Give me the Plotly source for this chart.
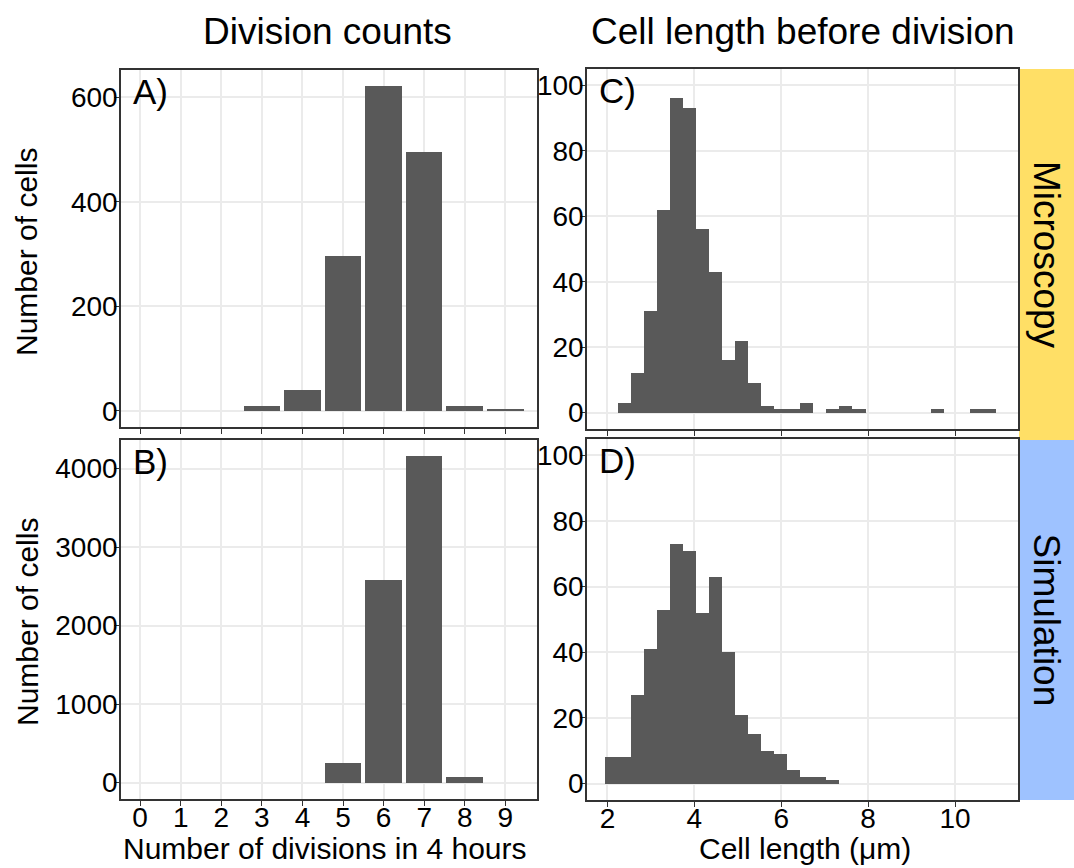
import plotly.graph_objects as go

# ---------------- data ----------------
divisions = [0, 1, 2, 3, 4, 5, 6, 7, 8, 9]
micro_div_counts = [0, 0, 0, 9, 39, 297, 621, 495, 9, 2]
sim_div_counts = [0, 0, 0, 0, 0, 256, 2581, 4157, 77, 0]

bin_start = 1.94
bin_width = 0.3
micro_len_counts = [0, 3, 12, 31, 62, 96, 93, 56, 43, 16, 22, 9, 2, 1, 1, 3, 0, 1, 2, 1,
                    0, 0, 0, 0, 0, 1, 0, 0, 1, 1]
sim_len_counts = [8, 8, 27, 41, 53, 73, 71, 52, 63, 40, 21, 15, 10, 9, 4, 2, 2, 1]

div_ticks = [0, 1, 2, 3, 4, 5, 6, 7, 8, 9]
len_ticks = [2, 4, 6, 8, 10]
micro_div_yticks = [0, 200, 400, 600]
sim_div_yticks = [0, 1000, 2000, 3000, 4000]
len_yticks = [0, 20, 40, 60, 80, 100]

col_titles = ["Division counts", "Cell length before division"]
row_labels = ["Microscopy", "Simulation"]
panel_letters = ["A)", "B)", "C)", "D)"]

# ---------------- figure ----------------
W, H = 1074, 868
FONT = "Liberation Sans, Arial, Helvetica, sans-serif"
BAR = "#595959"
GRID = "#EBEBEB"
LINE = "#333333"


def px_x(p):
    return p / W


def px_y(p):
    return 1 - p / H


def centers(counts):
    return [bin_start + bin_width * (i + 0.5) for i in range(len(counts))]


fig = go.Figure()
fig.add_trace(go.Bar(x=divisions, y=micro_div_counts, width=0.9, marker=dict(color=BAR, line=dict(width=0)),
                     xaxis="x", yaxis="y", showlegend=False))
fig.add_trace(go.Bar(x=divisions, y=sim_div_counts, width=0.9, marker=dict(color=BAR, line=dict(width=0)),
                     xaxis="x2", yaxis="y2", showlegend=False))
fig.add_trace(go.Bar(x=centers(micro_len_counts), y=micro_len_counts, width=bin_width,
                     marker=dict(color=BAR, line=dict(width=0)), xaxis="x3", yaxis="y3", showlegend=False))
fig.add_trace(go.Bar(x=centers(sim_len_counts), y=sim_len_counts, width=bin_width,
                     marker=dict(color=BAR, line=dict(width=0)), xaxis="x4", yaxis="y4", showlegend=False))

common = dict(showgrid=True, gridcolor=GRID, gridwidth=1.6, zeroline=False, showline=True, mirror=True,
              linecolor=LINE, linewidth=1.6, ticks="outside", ticklen=5, tickwidth=1.4, tickcolor=LINE,
              tickfont=dict(family=FONT, size=28, color="black"), fixedrange=True)
xcommon = dict(common, ticklabelstandoff=-12)
ycommon = dict(common, ticklabelstandoff=-9)

dA = dict(x=[px_x(121), px_x(537)], y=[px_y(427), px_y(70)])
dB = dict(x=[px_x(121), px_x(537)], y=[px_y(799), px_y(440)])
dC = dict(x=[px_x(587), px_x(1018)], y=[px_y(429), px_y(69)])
dD = dict(x=[px_x(587), px_x(1018)], y=[px_y(800), px_y(439)])

fig.update_layout(
    width=W, height=H, margin=dict(l=0, r=0, t=0, b=0),
    paper_bgcolor="white", plot_bgcolor="white", bargap=0,
    xaxis=dict(xcommon, domain=dA["x"], anchor="y", range=[-0.47, 9.78], tickvals=div_ticks, showticklabels=False),
    yaxis=dict(ycommon, domain=dA["y"], anchor="x", range=[-31, 652], tickvals=micro_div_yticks),
    xaxis2=dict(xcommon, domain=dB["x"], anchor="y2", range=[-0.47, 9.78], tickvals=div_ticks),
    yaxis2=dict(ycommon, domain=dB["y"], anchor="x2", range=[-208, 4365], tickvals=sim_div_yticks),
    xaxis3=dict(xcommon, domain=dC["x"], anchor="y3", range=[1.53, 11.45], tickvals=len_ticks, showticklabels=False),
    yaxis3=dict(ycommon, domain=dC["y"], anchor="x3", range=[-5, 105], tickvals=len_yticks),
    xaxis4=dict(xcommon, domain=dD["x"], anchor="y4", range=[1.53, 11.45], tickvals=len_ticks),
    yaxis4=dict(ycommon, domain=dD["y"], anchor="x4", range=[-5, 105], tickvals=len_yticks),
)

# strips
fig.add_shape(type="rect", xref="paper", yref="paper", x0=px_x(1019), x1=1.0, y0=px_y(440), y1=px_y(69),
              fillcolor="#FFDF66", line=dict(width=0), layer="below")
fig.add_shape(type="rect", xref="paper", yref="paper", x0=px_x(1019), x1=1.0, y0=px_y(800), y1=px_y(440),
              fillcolor="#9EC2FF", line=dict(width=0), layer="below")

ann = []
# strip labels
ann.append(dict(text=row_labels[0], xref="paper", yref="paper", x=px_x(1046.5), y=px_y(254.5),
                textangle=90, showarrow=False, font=dict(family=FONT, size=37, color="black"),
                xanchor="center", yanchor="middle"))
ann.append(dict(text=row_labels[1], xref="paper", yref="paper", x=px_x(1046.5), y=px_y(620),
                textangle=90, showarrow=False, font=dict(family=FONT, size=37, color="black"),
                xanchor="center", yanchor="middle"))
# column titles
ann.append(dict(text=col_titles[0], xref="paper", yref="paper", x=px_x(327), y=px_y(32),
                showarrow=False, font=dict(family=FONT, size=37, color="black"),
                xanchor="center", yanchor="middle"))
ann.append(dict(text=col_titles[1], xref="paper", yref="paper", x=px_x(803), y=px_y(32),
                showarrow=False, font=dict(family=FONT, size=37, color="black"),
                xanchor="center", yanchor="middle"))
# axis titles
ann.append(dict(text="Number of cells", xref="paper", yref="paper", x=px_x(27), y=px_y(252),
                textangle=-90, showarrow=False, font=dict(family=FONT, size=30, color="black"),
                xanchor="center", yanchor="middle"))
ann.append(dict(text="Number of cells", xref="paper", yref="paper", x=px_x(27), y=px_y(622),
                textangle=-90, showarrow=False, font=dict(family=FONT, size=30, color="black"),
                xanchor="center", yanchor="middle"))
ann.append(dict(text="Number of divisions in 4 hours", xref="paper", yref="paper", x=px_x(325), y=px_y(848),
                showarrow=False, font=dict(family=FONT, size=30, color="black"),
                xanchor="center", yanchor="middle"))
ann.append(dict(text="Cell length (μm)", xref="paper", yref="paper", x=px_x(805), y=px_y(848),
                showarrow=False, font=dict(family=FONT, size=30, color="black"),
                xanchor="center", yanchor="middle"))
# panel letters
for letter, xa, ya in zip(panel_letters, ["x", "x2", "x3", "x4"], ["y", "y2", "y3", "y4"]):
    ann.append(dict(text=letter, xref=xa + " domain", yref=ya + " domain", x=0, y=1,
                    xshift=10, yshift=0, xanchor="left", yanchor="top", showarrow=False,
                    font=dict(family=FONT, size=35, color="black")))

fig.update_layout(annotations=ann)
fig.write_html("out.html")
